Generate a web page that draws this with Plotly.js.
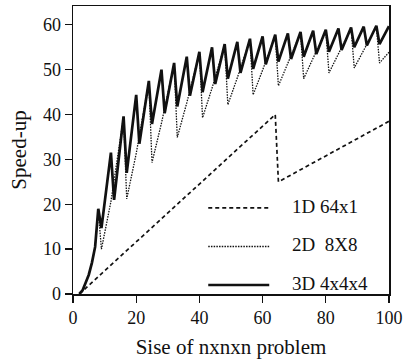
<!DOCTYPE html>
<html>
<head>
<meta charset="utf-8">
<script src="https://cdn.plot.ly/plotly-3.0.1.min.js"></script>
<style>html,body{margin:0;padding:0;background:#fff;}#chart{width:407px;height:362px;}</style>
</head>
<body>
<div id="chart"></div>
<script>
// Series 1D 64x1 (dashed)
const n1D = [2, 64, 65, 100];
const s1D = [0, 40, 25, 38.5];

// Series 2D 8X8 (dotted)
const n2D = [2, 3, 4, 5, 6, 7, 8, 9, 12, 16, 17, 20, 24, 25, 28, 32, 33, 36, 40, 41, 44, 48, 49, 52, 56, 57, 60, 64, 65, 68, 72, 73, 76, 80, 81, 84, 88, 89, 92, 96, 97, 100];
const s2D = [0, 0.8, 2.5, 4.3, 7, 10.5, 18.5, 10, 20.6, 39.5, 21.2, 31.3, 47.3, 29.3, 38.1, 51.3, 34.9, 42.6, 53.8, 39.3, 45.9, 55.5, 42.2, 48.2, 56.7, 44.4, 49.9, 57.6, 46.4, 51.3, 58.2, 48, 52.5, 58.7, 49.3, 53.4, 59.2, 50.4, 54.3, 59.6, 51.5, 53.9];

// Series 3D 4x4x4 (solid)
const n3D = [2, 3, 4, 5, 6, 7, 8, 9, 12, 13, 16, 17, 20, 21, 24, 25, 28, 29, 32, 33, 36, 37, 40, 41, 44, 45, 48, 49, 52, 53, 56, 57, 60, 61, 64, 65, 68, 69, 72, 73, 76, 77, 80, 81, 84, 85, 88, 89, 92, 93, 96, 97, 100];
const s3D = [0, 0.8, 2.5, 4.3, 7, 10.5, 19, 14.7, 31.5, 21, 39.6, 27, 44.4, 33.5, 47.5, 37.9, 50, 40.3, 51.5, 41.8, 52.9, 44.2, 54, 45, 55, 46.8, 55.7, 48, 56.2, 49.3, 56.9, 50.2, 57.4, 51.2, 57.8, 51.8, 58.1, 52.4, 58.4, 52.9, 58.7, 53.5, 58.9, 54, 59.2, 54.4, 59.4, 55, 59.6, 55.4, 59.8, 55.7, 59.7];

// Axis ticks and labels
const xTicks = [0, 20, 40, 60, 80, 100];
const yTicks = [0, 10, 20, 30, 40, 50, 60];
const seriesNames = ['1D 64x1', '2D  8X8', '3D 4x4x4'];
const xTitle = 'Sise of nxnxn problem';
const yTitle = 'Speed-up';

const FONT = 'Liberation Serif, Times New Roman, serif';
const INK = '#111';

const traces = [
  {x: n1D, y: s1D, mode: 'lines', name: seriesNames[0], showlegend: false,
   line: {color: INK, width: 1.7, dash: '4px,3px'}},
  {x: n2D, y: s2D, mode: 'lines', name: seriesNames[1], showlegend: false,
   line: {color: INK, width: 1.3, dash: '1.5px,1.2px'}},
  {x: n3D, y: s3D, mode: 'lines', name: seriesNames[2], showlegend: false,
   line: {color: INK, width: 2.7}}
];

// manual legend (long line samples like the original)
const legY = [0.299, 0.165, 0.031];
const legDash = ['4px,3px', '1.5px,1.2px', 'solid'];
const legW = [1.7, 1.3, 2.4];
const shapes = [];
const annotations = [];
for (let i = 0; i < 3; i++) {
  shapes.push({type: 'line', xref: 'paper', yref: 'paper', x0: 0.428, x1: 0.621, y0: legY[i], y1: legY[i],
    line: {color: INK, width: legW[i], dash: legDash[i]}});
  annotations.push({xref: 'paper', yref: 'paper', x: 0.686, y: legY[i] + 0.006, xanchor: 'left', yanchor: 'middle',
    text: seriesNames[i], showarrow: false, font: {family: FONT, size: 19, color: INK}});
}

const layout = {
  width: 407, height: 362,
  margin: {l: 72.5, r: 18, t: 5.5, b: 68},
  paper_bgcolor: '#fff', plot_bgcolor: '#fff',
  showlegend: false,
  font: {family: FONT, color: INK, size: 18},
  xaxis: {
    range: [0, 100], tickvals: xTicks, ticktext: xTicks.map(String),
    showgrid: false, zeroline: false, showline: true, mirror: true,
    linecolor: INK, linewidth: 1.5, ticks: 'outside', ticklen: 7, tickwidth: 1.3, tickcolor: INK,
    tickfont: {family: FONT, size: 18, color: INK},
    title: {text: xTitle, font: {family: FONT, size: 21, color: INK}, standoff: 12}
  },
  yaxis: {
    range: [0, 64.2], tickvals: yTicks, ticktext: yTicks.map(String),
    showgrid: false, zeroline: false, showline: true, mirror: true,
    linecolor: INK, linewidth: 1.5, ticks: 'outside', ticklen: 7, tickwidth: 1.3, tickcolor: INK,
    tickfont: {family: FONT, size: 18, color: INK},
    title: {text: yTitle, font: {family: FONT, size: 21, color: INK}, standoff: 10}
  },
  shapes: shapes,
  annotations: annotations
};

Plotly.newPlot('chart', traces, layout, {displayModeBar: false, staticPlot: true});
</script>
</body>
</html>
